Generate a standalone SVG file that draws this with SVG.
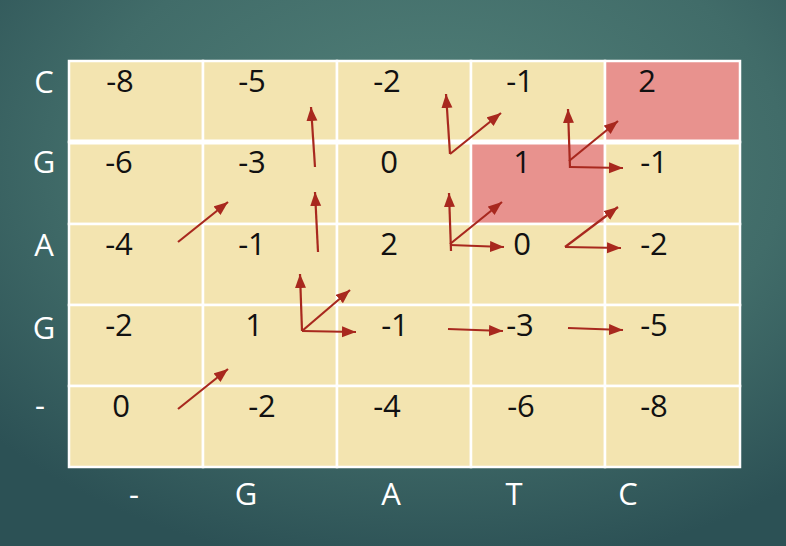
<svg xmlns="http://www.w3.org/2000/svg" width="786" height="546" viewBox="0 0 786 546">
<defs>
<radialGradient id="bg" cx="55%" cy="30%" r="75%">
<stop offset="0" stop-color="#53827A"/>
<stop offset="0.6" stop-color="#416C69"/>
<stop offset="1" stop-color="#2C5155"/>
</radialGradient>
<marker id="ah" markerUnits="userSpaceOnUse" markerWidth="15" markerHeight="12" refX="14" refY="5.5" orient="auto">
<path d="M0,0 L14,5.5 L0,11 z" fill="#A8281E"/>
</marker>
<style>
.cell{fill:#F3E4B0;stroke:#FFFFFF;stroke-width:2.5}
.hi{fill:#E8928E}
.num{font-family:"Open Sans","Noto Sans","DejaVu Sans",sans-serif;font-size:31px;fill:#111111;text-anchor:middle}
.lab{font-family:"Open Sans","Noto Sans","DejaVu Sans",sans-serif;font-size:31px;fill:#FFFFFF;text-anchor:middle}
.arr{stroke:#A8281E;stroke-width:2.2;fill:none;marker-end:url(#ah)}
</style>
</defs>
<rect x="0" y="0" width="786" height="546" fill="url(#bg)"/>

<g id="grid">
<g id="r0c0"><rect class="cell" x="69" y="61" width="134" height="81"/><text class="num" x="120" y="92">-8</text></g>
<g id="r0c1"><rect class="cell" x="203" y="61" width="134" height="81"/><text class="num" x="252" y="92">-5</text></g>
<g id="r0c2"><rect class="cell" x="337" y="61" width="134" height="81"/><text class="num" x="387" y="92">-2</text></g>
<g id="r0c3"><rect class="cell" x="471" y="61" width="134" height="81"/><text class="num" x="520" y="92">-1</text></g>
<g id="r0c4"><rect class="cell hi" x="605" y="61" width="135" height="81"/><text class="num" x="647" y="92">2</text></g>

<g id="r1c0"><rect class="cell" x="69" y="142" width="134" height="82"/><text class="num" x="119" y="173">-6</text></g>
<g id="r1c1"><rect class="cell" x="203" y="142" width="134" height="82"/><text class="num" x="252" y="173">-3</text></g>
<g id="r1c2"><rect class="cell" x="337" y="142" width="134" height="82"/><text class="num" x="389" y="173">0</text></g>
<g id="r1c3"><rect class="cell hi" x="471" y="142" width="134" height="82"/><text class="num" x="522" y="173">1</text></g>
<g id="r1c4"><rect class="cell" x="605" y="142" width="135" height="82"/><text class="num" x="654" y="173">-1</text></g>

<g id="r2c0"><rect class="cell" x="69" y="224" width="134" height="81"/><text class="num" x="119" y="255">-4</text></g>
<g id="r2c1"><rect class="cell" x="203" y="224" width="134" height="81"/><text class="num" x="252" y="255">-1</text></g>
<g id="r2c2"><rect class="cell" x="337" y="224" width="134" height="81"/><text class="num" x="389" y="255">2</text></g>
<g id="r2c3"><rect class="cell" x="471" y="224" width="134" height="81"/><text class="num" x="522" y="255">0</text></g>
<g id="r2c4"><rect class="cell" x="605" y="224" width="135" height="81"/><text class="num" x="654" y="255">-2</text></g>

<g id="r3c0"><rect class="cell" x="69" y="305" width="134" height="81"/><text class="num" x="119" y="336">-2</text></g>
<g id="r3c1"><rect class="cell" x="203" y="305" width="134" height="81"/><text class="num" x="254" y="336">1</text></g>
<g id="r3c2"><rect class="cell" x="337" y="305" width="134" height="81"/><text class="num" x="395" y="336">-1</text></g>
<g id="r3c3"><rect class="cell" x="471" y="305" width="134" height="81"/><text class="num" x="520" y="336">-3</text></g>
<g id="r3c4"><rect class="cell" x="605" y="305" width="135" height="81"/><text class="num" x="654" y="336">-5</text></g>

<g id="r4c0"><rect class="cell" x="69" y="386" width="134" height="81"/><text class="num" x="121" y="417">0</text></g>
<g id="r4c1"><rect class="cell" x="203" y="386" width="134" height="81"/><text class="num" x="262" y="417">-2</text></g>
<g id="r4c2"><rect class="cell" x="337" y="386" width="134" height="81"/><text class="num" x="387" y="417">-4</text></g>
<g id="r4c3"><rect class="cell" x="471" y="386" width="134" height="81"/><text class="num" x="521" y="417">-6</text></g>
<g id="r4c4"><rect class="cell" x="605" y="386" width="135" height="81"/><text class="num" x="654" y="417">-8</text></g>
<line x1="69" y1="142" x2="740" y2="142" stroke="#FFFFFF" stroke-width="5"/>
</g>

<g id="rowLabels">
<text class="lab" x="44" y="93">C</text>
<text class="lab" x="44" y="173">G</text>
<text class="lab" x="44" y="256">A</text>
<text class="lab" x="44" y="339">G</text>
<text class="lab" x="40" y="416">-</text>
</g>
<g id="colLabels">
<text class="lab" x="134" y="505">-</text>
<text class="lab" x="246" y="505">G</text>
<text class="lab" x="391" y="505">A</text>
<text class="lab" x="514" y="505">T</text>
<text class="lab" x="628" y="505">C</text>
</g>

<g id="connectors">
<line class="arr" x1="178" y1="242" x2="228" y2="202"/>
<line class="arr" x1="315" y1="167" x2="311" y2="107"/>
<line class="arr" x1="318" y1="252" x2="315" y2="192"/>
<line class="arr" x1="302" y1="331" x2="300" y2="274"/>
<line class="arr" x1="302" y1="331" x2="350" y2="290"/>
<line class="arr" x1="302" y1="331" x2="356" y2="332"/>
<line class="arr" x1="178" y1="409" x2="228" y2="369"/>
<line class="arr" x1="448" y1="329" x2="503" y2="331"/>
<line class="arr" x1="568" y1="328" x2="623" y2="330"/>
<line class="arr" x1="450" y1="154" x2="446" y2="94"/>
<line class="arr" x1="450" y1="154" x2="501" y2="113"/>
<line class="arr" x1="570" y1="168" x2="568" y2="109"/>
<line class="arr" x1="569" y1="161" x2="618" y2="121"/>
<line class="arr" x1="570" y1="167" x2="623" y2="168"/>
<line class="arr" x1="451" y1="251" x2="449" y2="193"/>
<line class="arr" x1="450" y1="244" x2="502" y2="202"/>
<line class="arr" x1="450" y1="245" x2="504" y2="247"/>
<line class="arr" x1="565" y1="247" x2="618" y2="207"/>
<line class="arr" x1="565" y1="247" x2="621" y2="248"/>
</g>
</svg>
